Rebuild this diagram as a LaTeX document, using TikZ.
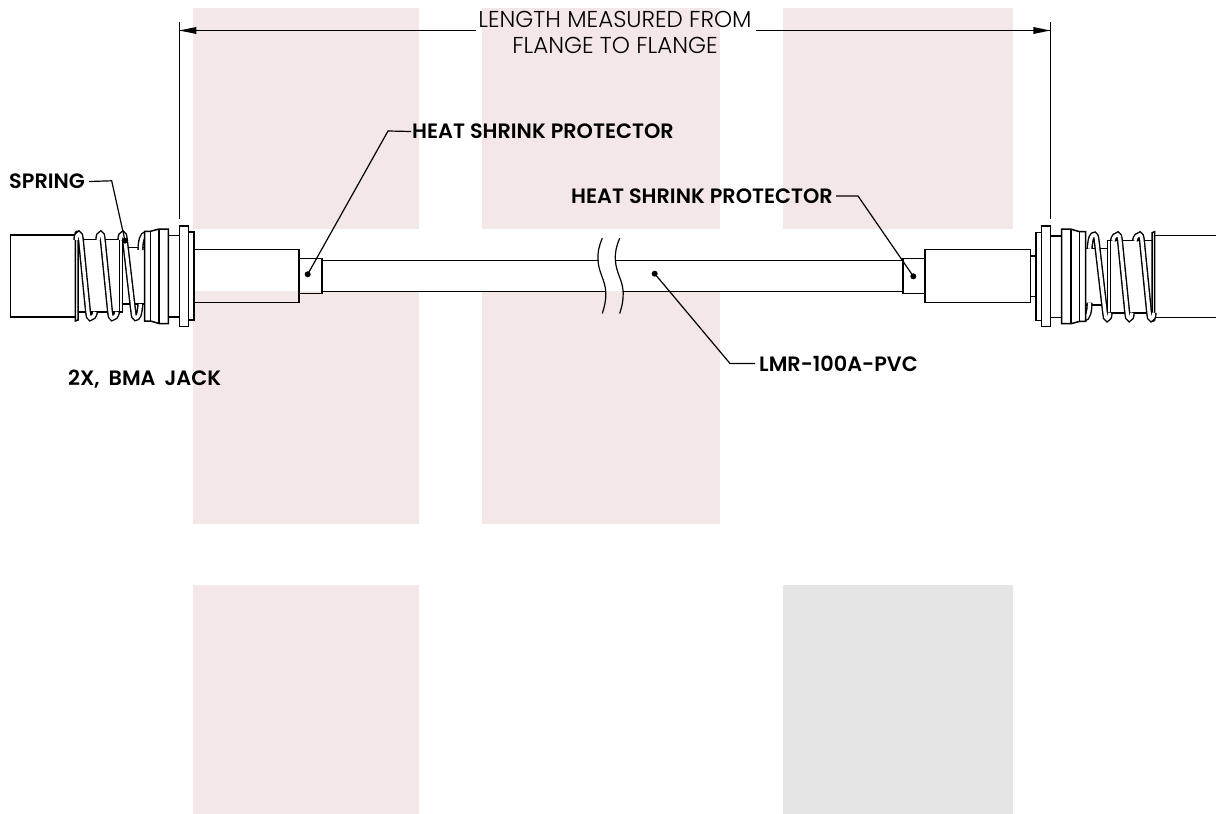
\documentclass[tikz,border=0pt]{standalone}
\usepackage{fontspec}
\setmainfont{Poppins}
\newfontfamily\lbl{Poppins SemiBold}
\newfontfamily\dimf{Poppins Light}
\definecolor{bgpink}{HTML}{F4E7E7}
\definecolor{bggray}{HTML}{E5E5E5}
\tikzset{
  pinkblock/.style={fill=bgpink,draw=none},
  grayblock/.style={fill=bggray,draw=none},
  part/.style={draw=black,line width=1.5pt},
  solidpart/.style={part,fill=white},
  wire/.style={line width=1.4pt,double=white,double distance=3.3pt},
  leader/.style={draw=black,line width=1.2pt},
  dotmark/.style={circle,fill=black,inner sep=0pt,minimum size=6pt},
  calloutlabel/.style={font=\lbl\fontsize{20.8}{23}\selectfont,inner sep=0pt,text=black},
  dimlabel/.style={font=\dimf\fontsize{23}{25}\selectfont,inner sep=0pt,text=black},
  dimline/.style={draw=black,line width=1.3pt},
  breakline/.style={draw=black,line width=1.2pt}
}
% one spring strand: #1 top x, #2 bottom x, #3 y where the tail ends
\newcommand{\coilstrand}[3]{%
  \draw[wire] (#1-2.4,240) .. controls (#1-2.4,236) and (#1-1.4,234) .. (#1,234)
     .. controls (#1+1.2,234) and (#1+1.8,236) .. (#1+2,239)
     -- (#2-1.6,312.5) .. controls (#2-1.2,316) and (#2-0.6,318) .. (#2+0.6,318)
     .. controls (#2+2.6,318) and (#2+4.6,316) .. (#2+5.4,#3);
}
\newcommand{\bmaconnector}{%
  \draw[solidpart] (10.5,235) rectangle (76,317);
  \draw[solidpart] (76,239.5) rectangle (119.5,312);
  \draw[solidpart] (119.5,239.5) rectangle (122.7,312);
  \draw[solidpart] (122.7,247.7) rectangle (144.5,304);
  \draw[wire] (140.5,250) .. controls (140.5,241) and (142,234.5) .. (146,234);
  \draw[solidpart] (168,235.3) rectangle (180,316.8);
  \draw[solidpart] (144.5,231.3) -- (150.5,231.3) -- (159,229) -- (168.3,229) -- (168.3,323.5) -- (159,323.5) -- (150.5,321) -- (144.5,321) -- cycle;
  \draw[part] (150.5,231.3) -- (150.5,321);
  \draw[part] (159,229) -- (159,323.5);
  \draw[solidpart] (188.5,232) rectangle (194,320);
  \draw[solidpart] (179.5,226) rectangle (188.5,326.7);
  \draw[solidpart] (75.3,232.5) .. controls (76.5,231) and (77.5,231) .. (78,233) -- (78,320) -- (75.3,321) -- cycle;
  \coilstrand{78.8}{89.7}{312}
  \coilstrand{100.7}{111.7}{312}
  \coilstrand{122.8}{135}{304}
}
\begin{document}
\begin{tikzpicture}[x=1pt,y=-1pt]
\useasboundingbox (0,0) rectangle (1216,814);
% background blocks
\fill[pinkblock] (193,8) rectangle (419,229);
\fill[pinkblock] (482,8) rectangle (720,229);
\fill[pinkblock] (783,8) rectangle (1013,229);
\fill[pinkblock] (193,291) rectangle (419,524);
\fill[pinkblock] (482,291) rectangle (720,524);
\fill[pinkblock] (193,585) rectangle (419,814);
\fill[grayblock] (783,585) rectangle (1013,814);
% cable
\draw[part] (322,260.3) -- (598.5,260.3);
\draw[part] (616,260.3) -- (902.8,260.3);
\draw[part] (322,291.3) -- (605.5,291.3);
\draw[part] (623,291.3) -- (902.8,291.3);
\draw[breakline] (602.3,238.3) .. controls (599,246) and (597.5,252) .. (598,260) .. controls (598.5,273) and (605.5,280) .. (605.8,293) .. controls (606,300) and (604.5,307) .. (602.3,313.5);
\draw[breakline] (619.7,238.3) .. controls (616.4,246) and (614.9,252) .. (615.4,260) .. controls (615.9,273) and (622.9,280) .. (623.2,293) .. controls (623.4,300) and (621.9,307) .. (619.7,313.5);
% left assembly
\draw[part] (194,249.7) rectangle (299,302.4);
\draw[part] (299,258.7) rectangle (322,293.3);
% right assembly
\draw[part] (902.8,258.5) rectangle (925,293.3);
\draw[part] (925,249.5) rectangle (1030.7,302.6);
\draw[part] (1030.7,256) rectangle (1035.7,296.7);
% connectors
\bmaconnector
\begin{scope}[shift={(1230,552.7)},rotate=180]
\bmaconnector
\end{scope}
% dimension
\coordinate (extLtop) at (179.3,22);
\coordinate (extLbot) at (179.3,219);
\coordinate (extRtop) at (1050.3,22);
\coordinate (extRbot) at (1050.3,219);
\draw[dimline] (extLtop) -- (extLbot);
\draw[dimline] (extRtop) -- (extRbot);
\node[dimlabel,anchor=center] (lenA) at (615,19.5) {LENGTH MEASURED FROM};
\node[dimlabel,anchor=center] (lenB) at (615,45) {FLANGE TO FLANGE};
\coordinate (dimL) at (179.3,30.5);
\coordinate (dimR) at (1050.3,30.5);
\coordinate (gapL) at (476,30.5);
\coordinate (gapR) at (756,30.5);
\draw[dimline] (gapL) -- (dimL);
\draw[dimline] (gapR) -- (dimR);
\fill (dimL) -- ++(17,-3.5) -- ++(0,7) -- cycle;
\fill (dimR) -- ++(-17,-3.5) -- ++(0,7) -- cycle;
% callouts
\node[calloutlabel,anchor=west] (spring) at (9,181.5) {SPRING};
\node[calloutlabel,anchor=west] (jack) at (68,379) {2X,\hspace{4pt} BMA\hspace{4pt} JACK};
\node[calloutlabel,anchor=west] (hsL) at (412,131.5) {HEAT SHRINK PROTECTOR};
\node[calloutlabel,anchor=east] (hsR) at (833,196) {HEAT SHRINK PROTECTOR};
\node[calloutlabel,anchor=west] (lmr) at (759,363.5) {LMR-100A-PVC};
\node[dotmark] (dSpring) at (125,240.7) {};
\node[dotmark] (dHsL) at (307.7,274.3) {};
\node[dotmark] (dHsR) at (913.3,276.3) {};
\node[dotmark] (dLmr) at (654.7,273.7) {};
\draw[leader] (spring.east) ++(4,0) -- (111.7,180.8) -- (dSpring.center);
\draw[leader] (hsL.west) ++(-1,0) -- (388,131) -- (dHsL.center);
\draw[leader] (hsR.east) ++(3,0) -- (858,196) -- (dHsR.center);
\draw[leader] (lmr.west) ++(-4,0) -- (730,363.5) -- (dLmr.center);
\end{tikzpicture}
\end{document}
